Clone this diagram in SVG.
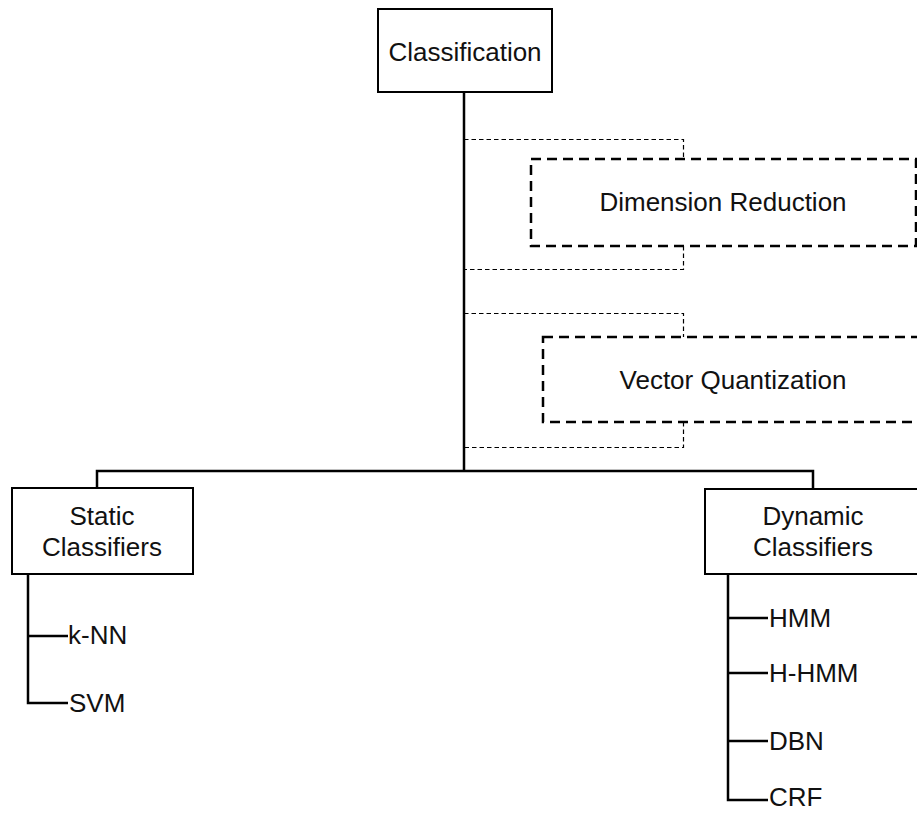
<svg xmlns="http://www.w3.org/2000/svg" width="917" height="813" viewBox="0 0 917 813">
<style>
text{font-family:"Liberation Sans",Arial,sans-serif;font-size:26px;fill:#111}
.c{text-anchor:middle}
.box{fill:#fff;stroke:#000;stroke-width:2}
.dbox{fill:#fff;stroke:#000;stroke-width:2.5;stroke-dasharray:10 6}
.ln{fill:none;stroke:#000;stroke-width:2.5}
.dl{fill:none;stroke:#000;stroke-width:1.2;stroke-dasharray:4.5 3}
</style>
<rect width="917" height="813" fill="#fff"/>
<g id="connectors">
<path class="ln" d="M464 92V471"/>
<path class="ln" d="M97 488V471H813V489"/>
<path class="ln" d="M28 574V703H68M28 636H68"/>
<path class="ln" d="M728 574V800H768M728 618H768M728 673H768M728 741H768"/>
<path class="dl" d="M464 139.5H683.5V159M683.5 246V269.5H464"/>
<path class="dl" d="M464 313.5H683.5V337M683.5 422V447.5H464"/>
</g>
<g id="classification">
<rect class="box" x="378" y="9" width="174" height="83"/>
<text class="c" x="465" y="61">Classification</text>
</g>
<g id="dimension-reduction">
<rect class="dbox" x="531" y="159" width="385" height="87"/>
<text class="c" x="723" y="211">Dimension Reduction</text>
</g>
<g id="vector-quantization">
<rect class="dbox" x="543" y="337" width="390" height="85"/>
<text class="c" x="733" y="389">Vector Quantization</text>
</g>
<g id="static">
<rect class="box" x="12" y="488" width="181" height="86"/>
<text class="c" x="102" y="525">Static</text>
<text class="c" x="102" y="556">Classifiers</text>
</g>
<g id="dynamic">
<rect class="box" x="705" y="489" width="220" height="85"/>
<text class="c" x="813" y="525">Dynamic</text>
<text class="c" x="813" y="556">Classifiers</text>
</g>
<g id="knn"><text x="68" y="644">k-NN</text></g>
<g id="svm"><text x="69" y="712">SVM</text></g>
<g id="hmm"><text x="769" y="627">HMM</text></g>
<g id="hhmm"><text x="769" y="682">H-HMM</text></g>
<g id="dbn"><text x="769" y="750">DBN</text></g>
<g id="crf"><text x="769" y="806">CRF</text></g>
</svg>
